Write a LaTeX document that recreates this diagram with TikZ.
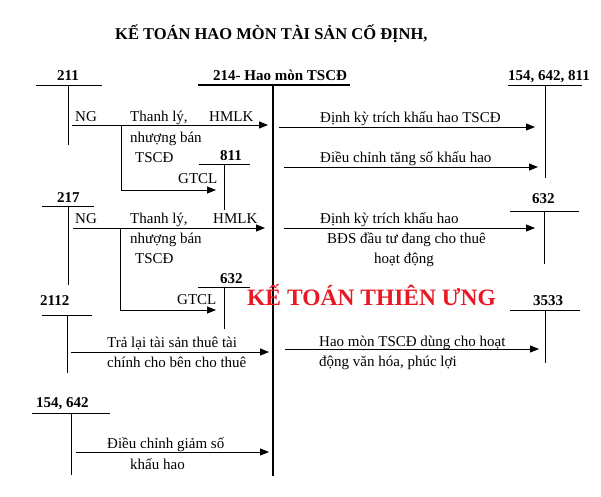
\documentclass[tikz,border=0pt]{standalone}
\usepackage{fontspec}
\setmainfont{Liberation Serif}
\usetikzlibrary{arrows.meta}
\definecolor{wmred}{RGB}{232,24,36}
\begin{document}
\begin{tikzpicture}[x=1pt,y=-1pt,
  lbl/.style={font=\fontsize{15}{17}\selectfont,inner sep=0pt,anchor=base west},
  acct/.style={font=\fontsize{15}{17}\selectfont\bfseries,inner sep=0pt,anchor=base west},
  tl/.style={line width=0.9pt},
  main/.style={line width=2.2pt},
  arr/.style={line width=0.9pt,-{Triangle[length=9pt,width=7pt]}}]
\useasboundingbox (0,0) rectangle (601,496);
% title
\node[font=\fontsize{16.5}{18}\selectfont\bfseries,inner sep=0pt,anchor=base west] (title) at (115,39) {KẾ TOÁN HAO MÒN TÀI SẢN CỐ ĐỊNH,};
% main account 214
\node[acct] (a214) at (213,80) {214- Hao mòn TSCĐ};
\coordinate (m1) at (198,85); \coordinate (m2) at (350,85);
\coordinate (mt) at (273,85); \coordinate (mb) at (273,476);
\draw[line width=1.8pt] (m1) -- (m2);
\draw[main] (mt) -- (mb);
% 211
\node[acct] (a211) at (57,80) {211};
\coordinate (t211a) at (36,85); \coordinate (t211b) at (102,85);
\coordinate (v211a) at (68,85); \coordinate (v211b) at (68,145);
\draw[tl] (t211a) -- (t211b); \draw[tl] (v211a) -- (v211b);
\coordinate (r1s) at (72,125); \coordinate (r1e) at (268,125);
\draw[arr] (r1s) -- (r1e);
\node[lbl] (ng1) at (75,121) {NG};
\node[lbl] (tl1) at (130,121) {Thanh lý,};
\node[lbl] (hm1) at (209,121) {HMLK};
\node[lbl] (nb1) at (130,142) {nhượng bán};
\node[lbl] (ts1) at (135,162) {TSCĐ};
\coordinate (b1a) at (121,125); \coordinate (b1c) at (121,190); \coordinate (b1e) at (216,190);
\draw[arr] (b1a) -- (b1c) -- (b1e);
\node[lbl] (gt1) at (178,183) {GTCL};
\node[acct] (a811) at (220,160) {811};
\coordinate (t811a) at (199,164); \coordinate (t811b) at (250,164);
\coordinate (v811a) at (224,164); \coordinate (v811b) at (224,210);
\draw[tl] (t811a) -- (t811b); \draw[tl] (v811a) -- (v811b);
% 154,642,811
\node[acct] (a154) at (508,80) {154, 642, 811};
\coordinate (t154a) at (508,85); \coordinate (t154b) at (582,85);
\coordinate (v154a) at (545,85); \coordinate (v154b) at (545,178);
\draw[tl] (t154a) -- (t154b); \draw[tl] (v154a) -- (v154b);
\coordinate (q1s) at (279,127); \coordinate (q1e) at (535,127);
\draw[arr] (q1s) -- (q1e);
\node[lbl] (dk1) at (320,122) {Định kỳ trích khấu hao TSCĐ};
\coordinate (q2s) at (284,167); \coordinate (q2e) at (538,167);
\draw[arr] (q2s) -- (q2e);
\node[lbl] (dc1) at (320,162) {Điều chỉnh tăng số khấu hao};
% 217
\node[acct] (a217) at (57,202) {217};
\coordinate (t217a) at (42,206); \coordinate (t217b) at (94,206);
\coordinate (v217a) at (68,206); \coordinate (v217b) at (68,285);
\draw[tl] (t217a) -- (t217b); \draw[tl] (v217a) -- (v217b);
\coordinate (r2s) at (73,228); \coordinate (r2e) at (265,228);
\draw[arr] (r2s) -- (r2e);
\node[lbl] (ng2) at (75,223) {NG};
\node[lbl] (tl2) at (130,223) {Thanh lý,};
\node[lbl] (hm2) at (213,223) {HMLK};
\node[lbl] (nb2) at (130,243) {nhượng bán};
\node[lbl] (ts2) at (135,263) {TSCĐ};
\coordinate (b2a) at (120,228); \coordinate (b2c) at (120,310); \coordinate (b2e) at (216,310);
\draw[arr] (b2a) -- (b2c) -- (b2e);
\node[lbl] (gt2) at (177,304) {GTCL};
\node[acct] (a632l) at (220,283) {632};
\coordinate (t632a) at (198,287); \coordinate (t632b) at (250,287);
\coordinate (v632a) at (224,287); \coordinate (v632b) at (224,329);
\draw[tl] (t632a) -- (t632b); \draw[tl] (v632a) -- (v632b);
% 632 right
\node[acct] (a632r) at (532,203) {632};
\coordinate (t632ra) at (510,211); \coordinate (t632rb) at (579,211);
\coordinate (v632ra) at (544,211); \coordinate (v632rb) at (544,264);
\draw[tl] (t632ra) -- (t632rb); \draw[tl] (v632ra) -- (v632rb);
\coordinate (q3s) at (284,228); \coordinate (q3e) at (535,228);
\draw[arr] (q3s) -- (q3e);
\node[lbl] (dk2) at (320,223) {Định kỳ trích khấu hao};
\node[lbl] (bd2) at (327,243) {BĐS đầu tư đang cho thuê};
\node[lbl] (hd2) at (374,263) {hoạt động};
% watermark
\node[font=\fontsize{23.5}{26}\selectfont\bfseries,text=wmred,inner sep=0pt,anchor=base west] (wm) at (247,305) {KẾ TOÁN THIÊN ƯNG};
% 2112
\node[acct] (a2112) at (40,305) {2112};
\coordinate (t2112a) at (42,315); \coordinate (t2112b) at (92,315);
\coordinate (v2112a) at (67,315); \coordinate (v2112b) at (67,373);
\draw[tl] (t2112a) -- (t2112b); \draw[tl] (v2112a) -- (v2112b);
\coordinate (r3s) at (71,352); \coordinate (r3e) at (269,352);
\draw[arr] (r3s) -- (r3e);
\node[lbl] (tr3) at (107,347) {Trả lại tài sản thuê tài};
\node[lbl] (ch3) at (107,367) {chính cho bên cho thuê};
% 3533
\node[acct] (a3533) at (533,305) {3533};
\coordinate (t3533a) at (510,310); \coordinate (t3533b) at (580,310);
\coordinate (v3533a) at (545,310); \coordinate (v3533b) at (545,363);
\draw[tl] (t3533a) -- (t3533b); \draw[tl] (v3533a) -- (v3533b);
\coordinate (q4s) at (285,349); \coordinate (q4e) at (539,349);
\draw[arr] (q4s) -- (q4e);
\node[lbl] (hm4) at (319,346) {Hao mòn TSCĐ dùng cho hoạt};
\node[lbl] (dv4) at (319,366) {động văn hóa, phúc lợi};
% 154,642
\node[acct] (a154b) at (36,407) {154, 642};
\coordinate (t154ba) at (32,413); \coordinate (t154bb) at (110,413);
\coordinate (v154ba) at (71,413); \coordinate (v154bb) at (71,475);
\draw[tl] (t154ba) -- (t154bb); \draw[tl] (v154ba) -- (v154bb);
\coordinate (r4s) at (76,452); \coordinate (r4e) at (269,452);
\draw[arr] (r4s) -- (r4e);
\node[lbl] (dg4) at (107,448) {Điều chỉnh giảm số};
\node[lbl] (kh4) at (130,469) {khấu hao};
\end{tikzpicture}
\end{document}
